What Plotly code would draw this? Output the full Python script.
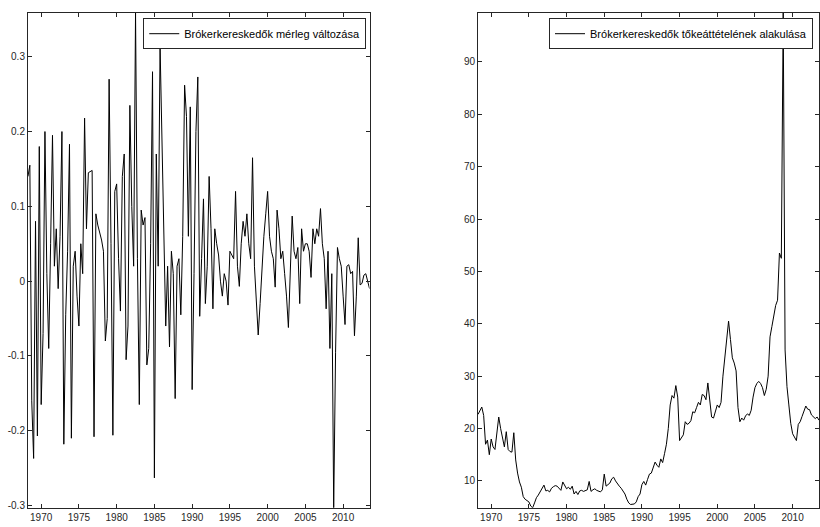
import numpy as np
import plotly.graph_objects as go

# Time axis: quarterly observations starting with 1968 Q2
START_YEAR = 1968.25

# Quarterly change of broker-dealer balance sheets
balance_1968_69 = [0.14, 0.155, -0.16, -0.237, 0.08, -0.207, 0.18]
balance_1970s = [
    -0.165, -0.07, 0.2, 0.01, -0.09, 0.05, 0.195, 0.02, 0.07, -0.01,
    0.06, 0.2, -0.218, -0.045, 0.04, 0.183, -0.21, 0.02, 0.04, -0.02,
    -0.06, 0.05, 0.01, 0.218, 0.07, 0.145, 0.147, 0.148, -0.208, 0.09,
    0.075, 0.065, 0.055, 0.04, -0.08, -0.05, 0.27, 0.05, -0.206, 0.12,
]
balance_1980s = [
    0.13, 0.03, -0.04, 0.14, 0.17, -0.105, -0.06, 0.235, 0.1, 0.02,
    0.359, 0.03, -0.165, 0.095, 0.075, 0.085, -0.112, -0.09, 0.05, 0.28,
    -0.263, 0.17, 0.02, 0.315, 0.18, 0.05, -0.06, 0.02, -0.088, 0.04,
    0.01, -0.157, 0.02, 0.03, -0.045, 0.06, 0.262, 0.22, 0.06, 0.233,
]
balance_1990s = [
    -0.145, 0.01, 0.2, 0.273, -0.047, 0.03, 0.11, -0.03, 0.02, 0.14,
    0.07, -0.037, 0.07, 0.05, 0.035, 0.0, -0.02, 0.01, 0.0, -0.032,
    0.04, 0.035, 0.03, 0.12, 0.02, -0.007, 0.05, 0.08, 0.06, 0.09,
    0.05, 0.03, 0.165, 0.02, -0.03, -0.072, -0.03, 0.02, 0.06, 0.09,
]
balance_2000s = [
    0.12, 0.06, 0.04, 0.03, -0.008, 0.095, 0.07, 0.03, 0.04, 0.01,
    -0.02, -0.062, 0.02, 0.087, 0.04, 0.03, 0.045, -0.03, 0.07, 0.04,
    0.05, 0.05, 0.04, 0.005, 0.07, 0.05, 0.07, 0.06, 0.097, 0.05,
    0.03, -0.037, 0.04, -0.09, 0.01, -0.303, -0.095, 0.045, 0.03, 0.02,
]
balance_2010s = [
    -0.02, -0.058, 0.02, 0.022, 0.01, 0.013, -0.073, -0.02, 0.058, -0.005,
    -0.003, 0.008, 0.01, 0.0, -0.01,
]

# Broker-dealer leverage (assets / equity)
leverage_1968_69 = [22.7, 23.5, 24.1, 22.5, 17.0, 17.8, 15.0]
leverage_1970s = [
    18.0, 16.5, 16.0, 19.0, 22.2, 20.0, 18.5, 16.5, 19.4, 16.0,
    15.6, 15.5, 19.2, 14.0, 11.5, 9.8, 8.8, 7.0, 6.5, 6.3,
    6.0, 5.2, 4.87, 5.8, 6.8, 7.3, 8.0, 8.6, 9.2, 8.1,
    8.2, 7.9, 8.6, 8.9, 9.1, 9.0, 8.5, 8.2, 9.8, 9.0,
]
leverage_1980s = [
    8.5, 8.8, 8.4, 9.0, 7.5, 8.0, 7.4, 8.1, 8.2, 8.0,
    8.2, 8.3, 9.9, 8.0, 8.3, 8.5, 8.2, 8.0, 7.9, 8.3,
    11.3, 9.0, 9.3, 9.6, 10.4, 10.7, 10.0, 9.4, 9.0, 8.6,
    8.0, 7.5, 6.5, 5.8, 5.5, 5.5, 5.6, 6.0, 7.0, 7.5,
]
leverage_1990s = [
    9.3, 9.9, 9.2, 10.3, 11.3, 11.5, 12.5, 13.6, 13.0, 12.6,
    14.2, 13.5, 15.2, 17.0, 20.0, 24.5, 26.3, 25.8, 28.2, 26.0,
    17.7, 18.3, 18.8, 21.3, 20.8, 21.0, 21.5, 23.2, 23.0, 24.0,
    25.0, 24.5, 26.5, 26.3, 25.5, 28.7, 25.5, 22.2, 22.0, 23.5,
]
leverage_2000s = [
    24.5, 24.0, 25.0, 30.0, 33.5, 36.0, 40.5, 37.0, 33.5, 32.5,
    31.0, 24.0, 21.3, 22.0, 21.6, 22.4, 22.8, 22.5, 23.5, 26.0,
    27.8, 28.6, 29.0, 28.6, 27.8, 26.3, 27.5, 30.0, 37.5, 39.5,
    41.5, 43.5, 44.5, 53.5, 52.5, 99.4, 35.0, 28.0, 24.5, 21.0,
]
leverage_2010s = [
    19.0, 18.3, 17.7, 20.8, 21.3, 22.3, 23.3, 24.3, 23.7, 23.6,
    22.6, 22.2, 21.9, 22.2, 21.6,
]

year_ticks = [1970, 1975, 1980, 1985, 1990, 1995, 2000, 2005, 2010]
balance_ticks = [-0.3, -0.2, -0.1, 0.0, 0.1, 0.2, 0.3]
balance_tick_text = ["-0.3", "-0.2", "-0.1", "0", "0.1", "0.2", "0.3"]
leverage_ticks = [10, 20, 30, 40, 50, 60, 70, 80, 90]

balance = (balance_1968_69 + balance_1970s + balance_1980s
           + balance_1990s + balance_2000s + balance_2010s)
leverage = (leverage_1968_69 + leverage_1970s + leverage_1980s
            + leverage_1990s + leverage_2000s + leverage_2010s)
years = START_YEAR + 0.25 * np.arange(len(balance))

W, H = 820, 527
FONT = "Liberation Sans, Arial, Helvetica, sans-serif"
FRAME = "#262626"

fig = go.Figure()
fig.add_trace(go.Scatter(
    x=years, y=balance, mode="lines",
    line=dict(color="black", width=1),
    name="Brókerkereskedők mérleg változása",
    xaxis="x", yaxis="y", legend="legend",
))
fig.add_trace(go.Scatter(
    x=years, y=leverage, mode="lines",
    line=dict(color="black", width=1),
    name="Brókerkereskedők tőkeáttételének alakulása",
    xaxis="x2", yaxis="y2", legend="legend2",
))

axis_style = dict(
    showline=True, linecolor=FRAME, linewidth=1, mirror="ticks",
    ticks="inside", ticklen=4, tickwidth=1, tickcolor=FRAME,
    showgrid=False, zeroline=False,
    tickfont=dict(family=FONT, size=10, color=FRAME),
)

y_dom = [1 - 510.7 / H, 1 - 12.7 / H]
x_range = [years[0], years[-1]]

legend_style = dict(
    yanchor="top", xanchor="right", y=1 - 18.3 / H,
    bgcolor="white", bordercolor=FRAME, borderwidth=1,
    font=dict(family=FONT, size=11, color="black"),
)

fig.update_layout(
    width=W, height=H,
    margin=dict(l=0, r=0, t=0, b=0),
    paper_bgcolor="white", plot_bgcolor="white",
    showlegend=True,
    xaxis=dict(domain=[28 / W, 370 / W], range=x_range,
               tickvals=year_ticks, anchor="y", **axis_style),
    yaxis=dict(domain=y_dom, range=[min(balance), max(balance)],
               tickvals=balance_ticks, ticktext=balance_tick_text,
               anchor="x", **axis_style),
    xaxis2=dict(domain=[478.6 / W, 1.0], range=x_range,
                tickvals=year_ticks, anchor="y2", **axis_style),
    yaxis2=dict(domain=y_dom, range=[min(leverage), max(leverage)],
                tickvals=leverage_ticks, anchor="x2", **axis_style),
    legend=dict(x=366.7 / W, **legend_style),
    legend2=dict(x=814 / W, **legend_style),
)

fig.write_html("out.html")
